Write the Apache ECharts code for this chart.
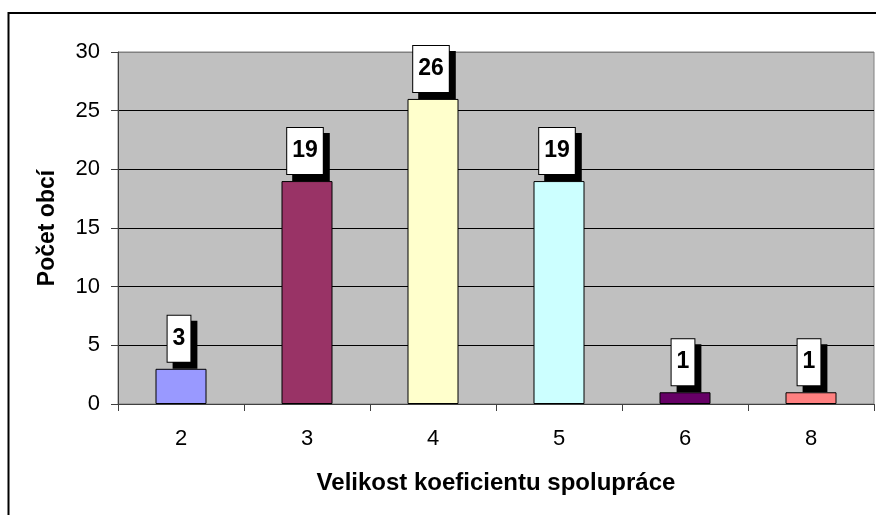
<!DOCTYPE html>
<html>
<head>
<meta charset="utf-8">
<script src="https://cdn.jsdelivr.net/npm/echarts@6/dist/echarts.min.js"></script>
<style>
  html, body { margin: 0; padding: 0; background: #fff; }
  #chart { width: 876px; height: 515px; }
</style>
</head>
<body>
<div id="chart"></div>
<script>
// Number of municipalities by cooperation coefficient
const categories = ['2', '3', '4', '5', '6', '8'];
const counts = [3, 19, 26, 19, 1, 1];
const barColors = ['#9999FF', '#993366', '#FFFFCC', '#CCFFFF', '#660066', '#FF8080'];
const yTicks = { min: 0, max: 30, interval: 5 };
const xTitle = 'Velikost koeficientu spolupráce';
const yTitle = 'Počet obcí';

const FONT = '"Liberation Sans", Arial, sans-serif';

const chart = echarts.init(document.getElementById('chart'), null, { renderer: 'canvas' });

chart.setOption({
  animation: false,
  backgroundColor: '#ffffff',
  textStyle: { fontFamily: FONT },
  graphic: [{
    type: 'rect',
    shape: { x: 8.5, y: 13, width: 1000, height: 700 },
    style: { fill: 'none', stroke: '#000', lineWidth: 2 },
    z: -10
  }],
  grid: {
    left: 118, right: 2, top: 52, bottom: 111,
    show: true,
    backgroundColor: '#C0C0C0',
    borderColor: '#808080',
    borderWidth: 1
  },
  xAxis: {
    type: 'category',
    data: categories,
    name: xTitle,
    nameLocation: 'middle',
    nameGap: 67,
    nameTextStyle: { fontFamily: FONT, fontSize: 24, fontWeight: 'bold', color: '#000' },
    axisLine: { lineStyle: { color: '#404040', width: 1 } },
    axisTick: { show: true, length: 7, lineStyle: { color: '#404040' } },
    axisLabel: { fontFamily: FONT, fontSize: 22, color: '#000', margin: 24 }
  },
  yAxis: {
    type: 'value',
    min: yTicks.min,
    max: yTicks.max,
    interval: yTicks.interval,
    name: yTitle,
    nameLocation: 'middle',
    nameRotate: 90,
    nameGap: 59,
    nameTextStyle: { fontFamily: FONT, fontSize: 23, fontWeight: 'bold', color: '#000' },
    axisLine: { show: true, lineStyle: { color: '#404040', width: 1 } },
    axisTick: { show: true, length: 7, lineStyle: { color: '#404040' } },
    axisLabel: { fontFamily: FONT, fontSize: 22, color: '#000', margin: 18 },
    splitLine: {
      show: true,
      lineStyle: { color: ['#808080', '#000', '#000', '#000', '#000', '#000', '#808080'], width: 1 }
    }
  },
  series: [{
    type: 'bar',
    barWidth: 51,
    data: counts.map((v, i) => ({
      value: v,
      itemStyle: { color: barColors[i], borderColor: '#000', borderWidth: 1 }
    })),
    label: {
      show: true,
      position: 'top',
      distance: 7,
      offset: [-2, 0],
      fontFamily: FONT,
      fontSize: 23,
      fontWeight: 'bold',
      lineHeight: 23,
      color: '#000',
      backgroundColor: '#fff',
      borderColor: '#000',
      borderWidth: 1,
      padding: [11, 5, 12, 5],
      shadowColor: '#000',
      shadowBlur: 0,
      shadowOffsetX: 6,
      shadowOffsetY: 6
    }
  }]
});
</script>
</body>
</html>
